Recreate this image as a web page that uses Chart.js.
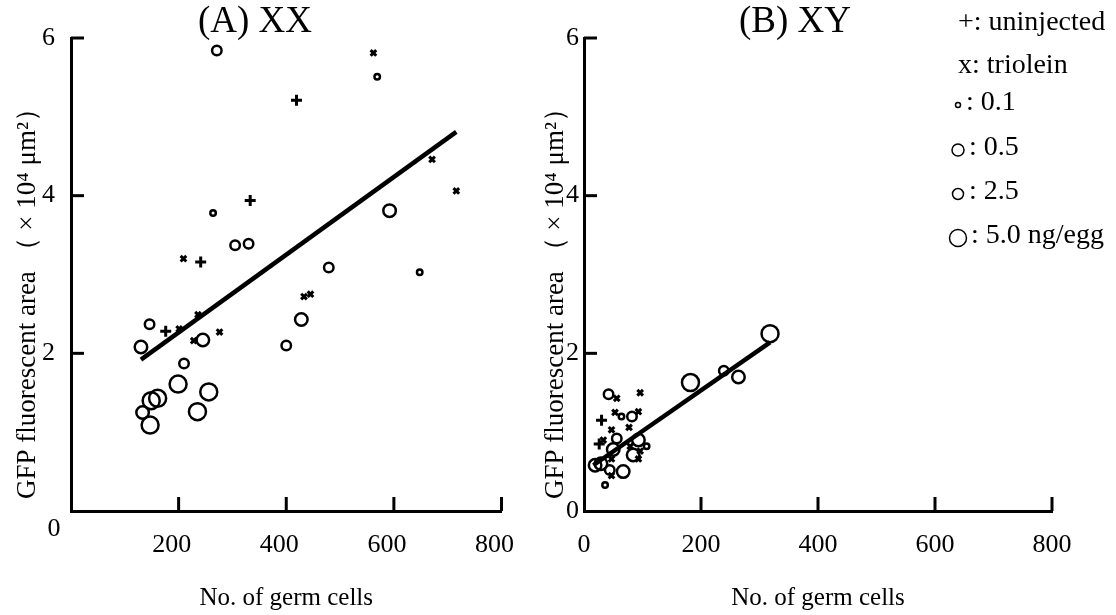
<!DOCTYPE html>
<html>
<head>
<meta charset="utf-8">
<script src="https://cdn.jsdelivr.net/npm/chart.js@4"></script>
<style>
    html, body { margin: 0; padding: 0; background: #fff; }
    #wrap { position: relative; width: 1116px; height: 615px; }
    canvas { position: absolute; top: 0; }
    #chartA { left: 0; }
    #chartB { left: 540px; }
</style>
</head>
<body>
<div id="wrap">
    <canvas id="chartA" width="540" height="615"></canvas>
    <canvas id="chartB" width="576" height="615"></canvas>
</div>
<script>
// axis ticks
const X_TICKS = [0, 200, 400, 600, 800];
const Y_TICKS = [0, 2, 4, 6];

// (A) XX  -- [germ cells, GFP area x10^4 um^2]
const xxUninjected = [[419, 5.21], [333, 3.94], [241, 3.16], [176, 2.28]];
const xxTriolein = [[562, 5.81], [671, 4.46], [716, 4.06], [209, 3.20], [433, 2.72], [445, 2.75],
    [201, 2.31], [236, 2.49], [276, 2.27], [228, 2.16]];
const xxDose01 = [[264, 3.78], [569, 5.51], [648, 3.03]];
const xxDose05 = [[271, 5.84], [305, 3.37], [330, 3.39], [400, 2.10], [146, 2.37], [210, 1.87], [479, 3.09]];
const xxDose25 = [[592, 3.81], [428, 2.43], [245, 2.17], [130, 2.08], [133, 1.25]];
const xxDose50 = [[199, 1.61], [256, 1.51], [149, 1.40], [161, 1.43], [235, 1.26], [147, 1.09]];
const xxFit = [[130, 1.92], [716, 4.81]];

// (B) XY
const xyUninjected = [[30, 1.15], [26, 0.85]];
const xyTriolein = [[56, 1.43], [96, 1.50], [53, 1.25], [93, 1.26], [77, 1.06], [47, 1.03],
    [33, 0.90], [79, 0.82], [96, 0.76], [93, 0.66], [47, 0.45], [47, 0.66]];
const xyDose01 = [[64, 1.20], [107, 0.82], [36, 0.33]];
const xyDose05 = [[42, 1.48], [82, 1.20], [56, 0.92], [44, 0.52], [239, 1.78]];
const xyDose25 = [[29, 0.60], [93, 0.90], [50, 0.78], [84, 0.71], [67, 0.50], [264, 1.70], [19, 0.58]];
const xyDose50 = [[182, 1.63], [318, 2.25]];
const xyFit = [[16, 0.58], [318, 2.14]];

const legendRows = ['+: uninjected', 'x: triolein', ': 0.1', ': 0.5', ': 2.5', ': 5.0 ng/egg'];

const FONT = "'Liberation Serif', 'DejaVu Serif', serif";
const Y_TITLE = 'GFP fluorescent area （ × 10⁴ μm²）';
const pts = arr => arr.map(([x, y]) => ({ x, y }));

function buildSets(uninj, trio, d01, d05, d25, d50, fit) {
    const ring = (data, r) => ({
        data: pts(data), pointStyle: 'circle', pointRadius: r, pointHoverRadius: r,
        borderWidth: 2.5, borderColor: '#000', backgroundColor: 'rgba(0,0,0,0)'
    });
    return [
        { data: pts(fit), showLine: true, pointRadius: 0, borderColor: '#000', borderWidth: 4.5 },
        { data: pts(uninj), pointStyle: 'cross', pointRadius: 5.5, borderWidth: 3, borderColor: '#000' },
        { data: pts(trio), pointStyle: 'crossRot', pointRadius: 4, borderWidth: 3, borderColor: '#000' },
        ring(d01, 2.75), ring(d05, 4.75), ring(d25, 6.25), ring(d50, 8.5)
    ];
}

function decor(cfg) {
    return {
        id: 'decor',
        afterDraw(chart) {
            const { ctx, chartArea: a, scales: { x, y } } = chart;
            ctx.save();
            ctx.strokeStyle = '#000';
            ctx.lineWidth = 3;
            const seg = (x1, y1, x2, y2) => { ctx.beginPath(); ctx.moveTo(x1, y1); ctx.lineTo(x2, y2); ctx.stroke(); };
            // inward tick marks
            x.ticks.forEach(t => {
                if (t.value === 0) return;
                const p = x.getPixelForValue(t.value);
                seg(p, a.bottom, p, a.bottom - 14);
            });
            y.ticks.forEach(t => {
                if (t.value === 0) return;
                const p = y.getPixelForValue(t.value);
                seg(a.left, p, a.left + 13, p);
            });
            ctx.fillStyle = '#000';
            ctx.textAlign = 'center';
            ctx.textBaseline = 'middle';
            ctx.font = `37px ${FONT}`;
            ctx.fillText(cfg.title, cfg.titleX, 22);
            if (cfg.cornerZero) {
                ctx.font = `26px ${FONT}`;
                ctx.fillText('0', cfg.cornerZero[0], cfg.cornerZero[1]);
            }
            if (cfg.legend) {
                ctx.textAlign = 'left';
                ctx.font = `28px ${FONT}`;
                const rowY = [23, 66, 103, 148, 192, 236];
                const ringR = [0, 0, 2.5, 6, 5.5, 8.5];
                const textX = [418, 418, 426, 429, 429, 431];
                legendRows.forEach((txt, i) => {
                    if (ringR[i]) {
                        ctx.lineWidth = 1.5;
                        ctx.beginPath();
                        ctx.arc(418, rowY[i] + 2, ringR[i], 0, Math.PI * 2);
                        ctx.stroke();
                    }
                    ctx.fillText(txt, textX[i], rowY[i]);
                });
            }
            ctx.translate(cfg.yTitleX, 297);
            ctx.rotate(-Math.PI / 2);
            ctx.textAlign = 'center';
            ctx.font = `27px ${FONT}`;
            ctx.fillText(Y_TITLE, 0, 0);
            ctx.restore();
        }
    };
}

function makePanel(id, datasets, cfg) {
    new Chart(document.getElementById(id), {
        type: 'scatter',
        data: { datasets },
        options: {
            responsive: false,
            animation: false,
            events: [],
            layout: { padding: { top: 38, right: cfg.padRight, left: 0, bottom: 0 } },
            plugins: { legend: { display: false }, tooltip: { enabled: false } },
            scales: {
                x: {
                    type: 'linear', min: X_TICKS[0], max: X_TICKS[X_TICKS.length - 1],
                    afterFit: s => { s.height = 615 - 511; },
                    afterBuildTicks: s => { s.ticks = X_TICKS.map(v => ({ value: v })); },
                    border: { display: true, color: '#000', width: 3 },
                    grid: { display: false, drawTicks: false },
                    ticks: {
                        color: '#000', padding: 19, autoSkip: false, maxRotation: 0,
                        labelOffset: cfg.xLabelOffset,
                        font: { family: FONT, size: 26 },
                        callback: v => (cfg.hideZero && v === 0) ? '' : v
                    },
                    title: {
                        display: true, text: 'No. of germ cells', color: '#000',
                        font: { family: FONT, size: 25 }, padding: { top: 0, bottom: 2 }
                    }
                },
                y: {
                    type: 'linear', min: Y_TICKS[0], max: Y_TICKS[Y_TICKS.length - 1],
                    afterFit: s => { s.width = cfg.yWidth; },
                    afterBuildTicks: s => { s.ticks = Y_TICKS.map(v => ({ value: v })); },
                    border: { display: true, color: '#000', width: 3 },
                    grid: { display: false, drawTicks: false },
                    ticks: {
                        color: '#000', padding: cfg.yPad,
                        font: { family: FONT, size: 26 },
                        callback: v => (cfg.hideZero && v === 0) ? '' : v
                    }
                }
            }
        },
        plugins: [decor(cfg)]
    });
}

makePanel('chartA', buildSets(xxUninjected, xxTriolein, xxDose01, xxDose05, xxDose25, xxDose50, xxFit), {
    padRight: 35, yWidth: 71, yPad: 16, xLabelOffset: -7, hideZero: true,
    title: '(A) XX', titleX: 255, yTitleX: 28, cornerZero: [54, 529]
});

makePanel('chartB', buildSets(xyUninjected, xyTriolein, xyDose01, xyDose05, xyDose25, xyDose50, xyFit), {
    padRight: 64, yWidth: 44, yPad: 5, xLabelOffset: 0, hideZero: false,
    title: '(B) XY', titleX: 255, yTitleX: 16, legend: true
});
</script>
</body>
</html>
